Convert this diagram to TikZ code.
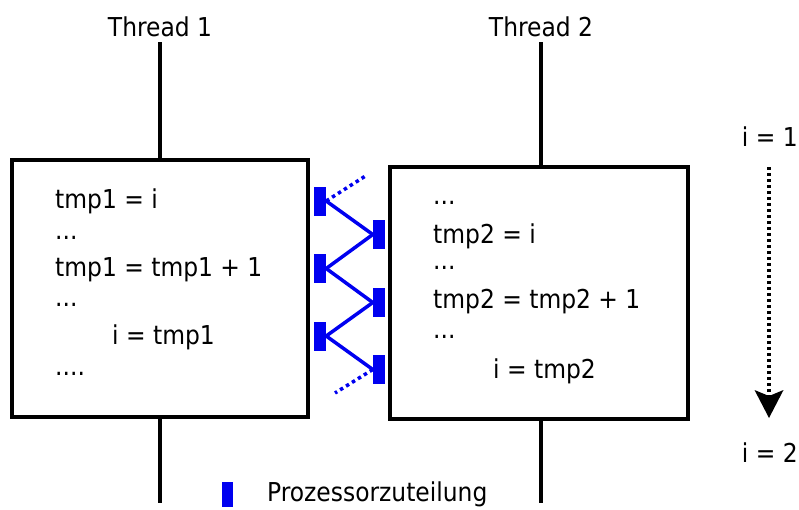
\documentclass[tikz,border=0pt]{standalone}
\usepackage{fontspec}
\setmainfont{DejaVu Sans Condensed}
\usetikzlibrary{arrows.meta}
\definecolor{procblue}{RGB}{0,0,240}
\begin{document}
\begin{tikzpicture}[x=1pt,y=-1pt,
  box/.style={draw=black,line width=3.5pt,fill=white},
  txt/.style={font=\fontsize{26}{29}\selectfont,anchor=west,inner sep=0pt},
  lbl/.style={font=\fontsize{26}{29}\selectfont,inner sep=0pt},
  thread/.style={draw=black,line width=3.5pt},
  proc/.style={fill=procblue,draw=none,minimum width=12pt,minimum height=29pt,inner sep=0pt},
  conn/.style={draw=procblue,line width=3.5pt},
  dotconn/.style={draw=procblue,line width=3.5pt,dash pattern=on 3.5pt off 3.5pt}]
\useasboundingbox (0,0) rectangle (799,509);
% thread lines
\node[lbl] (t1) at (160,27) {Thread 1};
\node[lbl] (t2) at (541,27) {Thread 2};
\coordinate (t1top) at (160,42);
\coordinate (t1bot) at (160,503);
\coordinate (t2top) at (541,42);
\coordinate (t2bot) at (541,503);
\draw[thread] (t1top) -- (t1bot);
\draw[thread] (t2top) -- (t2bot);
% boxes
\node[box,minimum width=296pt,minimum height=257pt,inner sep=0pt] (b1) at (160,288.5) {};
\node[box,minimum width=298pt,minimum height=252pt,inner sep=0pt] (b2) at (539,293) {};
% texts box 1
\node[txt] (a1) at (55,201) {tmp1 = i};
\node[txt] (a2) at (55,238) {...};
\node[txt] (a3) at (55,270) {tmp1 = tmp1 + 1};
\node[txt] (a4) at (55,305) {...};
\node[txt] (a5) at (112,337) {i = tmp1};
\node[txt] (a6) at (55,374) {....};
% texts box 2
\node[txt] (c1) at (433,203) {...};
\node[txt] (c2) at (433,236) {tmp2 = i};
\node[txt] (c3) at (433,268) {...};
\node[txt] (c4) at (433,302) {tmp2 = tmp2 + 1};
\node[txt] (c5) at (433,337) {...};
\node[txt] (c6) at (493,371) {i = tmp2};
% processor slots
\node[proc] (l1) at (320,201) {};
\node[proc] (l2) at (320,268.5) {};
\node[proc] (l3) at (320,336) {};
\node[proc] (r1) at (379,234.5) {};
\node[proc] (r2) at (379,302.5) {};
\node[proc] (r3) at (379,369.5) {};
\draw[conn] (l1.east) -- (r1.west);
\draw[conn] (r1.west) -- (l2.east);
\draw[conn] (l2.east) -- (r2.west);
\draw[conn] (r2.west) -- (l3.east);
\draw[conn] (l3.east) -- (r3.west);
\coordinate (d1) at (367,175);
\coordinate (d2) at (335,393);
\draw[dotconn] (l1.east) -- (d1);
\draw[dotconn] (r3.west) -- (d2);
% i arrow
\node[lbl,anchor=east] (i1) at (798,137) {i = 1};
\node[lbl,anchor=east] (i2) at (798,453) {i = 2};
\coordinate (ar1) at (769,167);
\coordinate (ar2) at (769,418);
\draw[line width=3.5pt,dash pattern=on 3pt off 3pt,-{Stealth[width=29pt,length=28pt,inset=6pt,line width=0pt]}] (ar1) -- (ar2);
% legend
\node[proc,minimum width=11pt,minimum height=25pt] (leg) at (227.5,494) {};
\node[txt] (legt) at (267,494) {Prozessorzuteilung};
\end{tikzpicture}
\end{document}
